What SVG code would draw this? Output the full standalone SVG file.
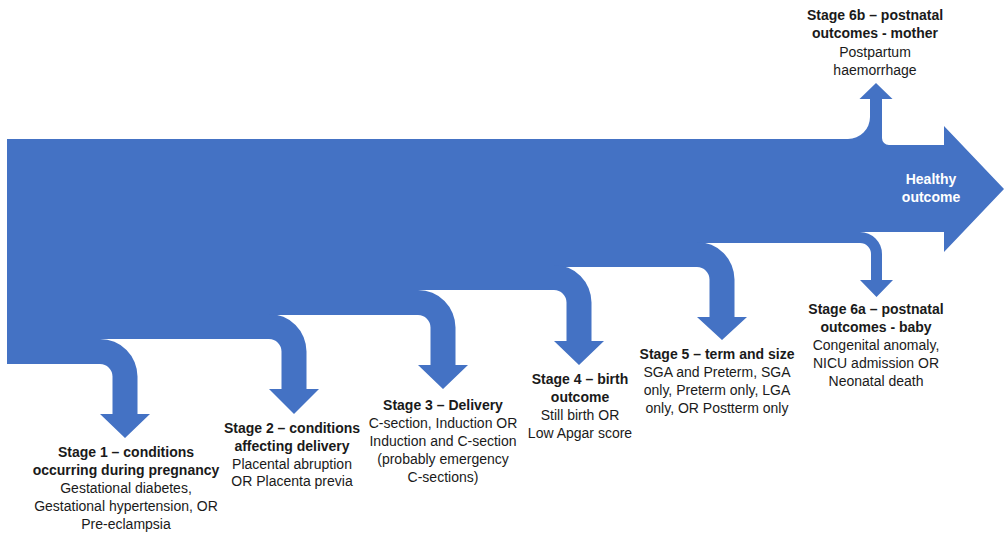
<svg xmlns="http://www.w3.org/2000/svg" width="1005" height="539" viewBox="0 0 1005 539">
<style>
.shape{fill:#4472C4;stroke:none}
text{font-family:"Liberation Sans",Arial,sans-serif;font-size:14px;fill:#1a1a1a;text-anchor:middle}
.b{font-weight:bold}
.w{fill:#ffffff;font-weight:bold}
</style>
<rect width="1005" height="539" fill="#ffffff"/>
<g id="flow">
<path class="shape" d="M7 139 H882 V145 H944 V126 L1004 189 L944 252 V232 H860 V243 H697 V267 H554 V290 H418 V315 H269 V339 H100 V364 H7 Z"/>
</g>
<g id="connectors">
<path id="branch1" class="shape" d="M90 339 H100 A37.5 37.5 0 0 1 137.5 376.5 V414 H150 L125 438 L100 414 H112.5 V376.5 A12.5 12.5 0 0 0 100 364 H90 Z"/>
<path id="branch2" class="shape" d="M259 314 H269 A37.5 37.5 0 0 1 306.5 351.5 V389 H319 L294 414 L269 389 H281.5 V351.5 A12.5 12.5 0 0 0 269 339 H259 Z"/>
<path id="branch3" class="shape" d="M408 290 H418 A37.5 37.5 0 0 1 455.5 327.5 V365 H468 L443 389 L418 365 H430.5 V327.5 A12.5 12.5 0 0 0 418 315 H408 Z"/>
<path id="branch4" class="shape" d="M544 265 H554 A37.5 37.5 0 0 1 591.5 302.5 V341 H604 L579 365 L554 341 H566.5 V302.5 A12.5 12.5 0 0 0 554 290 H544 Z"/>
<path id="branch5" class="shape" d="M687 242 H697 A37.5 37.5 0 0 1 734.5 279.5 V317 H747 L722 340 L697 317 H709.5 V279.5 A12.5 12.5 0 0 0 697 267 H687 Z"/>
<path id="branch6a" class="shape" d="M850 232 H860 A22 22 0 0 1 882 254 V280 H893 L876.5 297 L860 280 H871 V254 A11 11 0 0 0 860 243 H850 Z"/>
<path id="branch6b" class="shape" d="M840 139 H848 A22 22 0 0 0 870 117 V99 H859.5 L876 83 L892.5 99 H882 V138 A7 7 0 0 0 889 145 H896 V155 H840 Z"/>
</g>
<g id="healthy">
<text class="w" x="931" y="184">Healthy</text>
<text class="w" x="931" y="202">outcome</text>
</g>
<g id="stage1">
<text class="b" x="126" y="457">Stage 1 – conditions</text>
<text class="b" x="126" y="475">occurring during pregnancy</text>
<text x="126" y="493">Gestational diabetes,</text>
<text x="126" y="511">Gestational hypertension, OR</text>
<text x="126" y="529">Pre-eclampsia</text>
</g>
<g id="stage2">
<text class="b" x="292" y="433">Stage 2 – conditions</text>
<text class="b" x="292" y="451">affecting delivery</text>
<text x="292" y="469">Placental abruption</text>
<text x="292" y="486">OR Placenta previa</text>
</g>
<g id="stage3">
<text class="b" x="443" y="410">Stage 3 – Delivery</text>
<text x="443" y="428">C-section, Induction OR</text>
<text x="443" y="446">Induction and C-section</text>
<text x="443" y="464">(probably emergency</text>
<text x="443" y="482">C-sections)</text>
</g>
<g id="stage4">
<text class="b" x="580" y="384">Stage 4 – birth</text>
<text class="b" x="580" y="402">outcome</text>
<text x="580" y="420">Still birth OR</text>
<text x="580" y="438">Low Apgar score</text>
</g>
<g id="stage5">
<text class="b" x="717" y="359">Stage 5 – term and size</text>
<text x="717" y="377">SGA and Preterm, SGA</text>
<text x="717" y="395">only, Preterm only, LGA</text>
<text x="717" y="413">only, OR Postterm only</text>
</g>
<g id="stage6a">
<text class="b" x="876" y="314">Stage 6a – postnatal</text>
<text class="b" x="876" y="332">outcomes - baby</text>
<text x="876" y="350">Congenital anomaly,</text>
<text x="876" y="368">NICU admission OR</text>
<text x="876" y="386">Neonatal death</text>
</g>
<g id="stage6b">
<text class="b" x="875" y="20">Stage 6b – postnatal</text>
<text class="b" x="875" y="38">outcomes - mother</text>
<text x="875" y="57">Postpartum</text>
<text x="875" y="75">haemorrhage</text>
</g>
</svg>
